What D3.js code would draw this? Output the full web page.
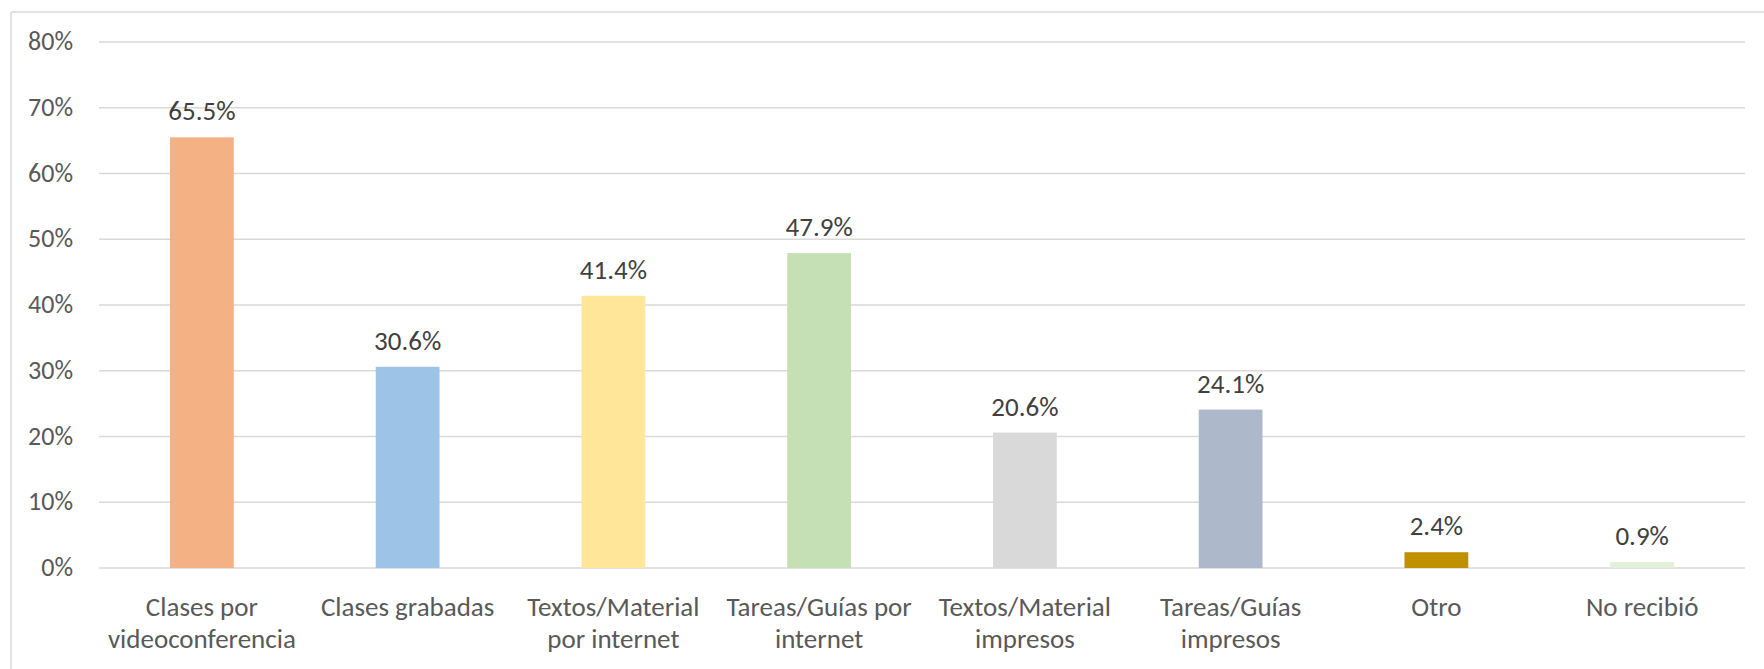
<!DOCTYPE html>
<html>
<head>
<meta charset="utf-8">
<script src="https://cdn.jsdelivr.net/npm/d3@7"></script>
<style>
  body { margin: 0; background: #fff; }
  text { font-family: Calibri, Carlito, Lato, sans-serif; }
</style>
</head>
<body>
<div id="chart"></div>
<script>
// data
var categories = [
    ["Clases por", "videoconferencia"],
    ["Clases grabadas"],
    ["Textos/Material", "por internet"],
    ["Tareas/Guías por", "internet"],
    ["Textos/Material", "impresos"],
    ["Tareas/Guías", "impresos"],
    ["Otro"],
    ["No recibió"]
];
var values = [65.5, 30.6, 41.4, 47.9, 20.6, 24.1, 2.4, 0.9];
var colors = ["#F4B183", "#9DC3E6", "#FFE699", "#C5E0B4", "#D9D9D9", "#ADB9CA", "#BF9000", "#E2F0D9"];
var yTicks = [0, 10, 20, 30, 40, 50, 60, 70, 80];

var width = 1764, height = 669;
var margin = { left: 99, right: 19, top: 42, bottom: 101 };

var svg = d3.select("#chart")
    .append("svg")
    .attr("width", width)
    .attr("height", height);

// chart frame (only top and left edges show)
svg.append("line")
    .attr("x1", 11).attr("x2", width).attr("y1", 12).attr("y2", 12)
    .style("stroke", "#D9D9D9").style("stroke-width", 1.5);
svg.append("line")
    .attr("x1", 11).attr("x2", 11).attr("y1", 12).attr("y2", height)
    .style("stroke", "#D9D9D9").style("stroke-width", 1.5);

var x = d3.scaleBand()
    .domain(d3.range(categories.length))
    .range([margin.left, width - margin.right])
    .paddingInner(0.69)
    .paddingOuter(0.345);

var y = d3.scaleLinear()
    .domain([0, 80])
    .range([height - margin.bottom, margin.top]);

// gridlines
svg.selectAll(".grid")
    .data(yTicks)
    .enter()
    .append("line")
    .attr("x1", margin.left)
    .attr("x2", width - margin.right)
    .attr("y1", d => y(d))
    .attr("y2", d => y(d))
    .style("stroke", "#D9D9D9")
    .style("stroke-width", 1.5);

// y labels
svg.selectAll(".ylab")
    .data(yTicks)
    .enter()
    .append("text")
    .attr("x", 73)
    .attr("y", d => y(d) + 8)
    .attr("text-anchor", "end")
    .style("font-size", "26px")
    .style("fill", "#595959")
    .text(d => d + "%");

// bars
svg.selectAll(".bar")
    .data(values)
    .enter()
    .append("rect")
    .attr("x", (d, i) => x(i))
    .attr("y", d => y(d))
    .attr("width", x.bandwidth())
    .attr("height", d => y(0) - y(d))
    .style("fill", (d, i) => colors[i]);

// value labels
svg.selectAll(".val")
    .data(values)
    .enter()
    .append("text")
    .attr("x", (d, i) => x(i) + x.bandwidth() / 2)
    .attr("y", d => y(d) - 17)
    .attr("text-anchor", "middle")
    .style("font-size", "27px")
    .style("fill", "#404040")
    .text(d => d.toFixed(1) + "%");

// category labels
var cat = svg.selectAll(".cat")
    .data(categories)
    .enter()
    .append("text")
    .attr("text-anchor", "middle")
    .style("font-size", "27px")
    .style("fill", "#595959");

cat.selectAll("tspan")
    .data((d, i) => d.map(s => ({ s: s, i: i })))
    .enter()
    .append("tspan")
    .attr("x", d => x(d.i) + x.bandwidth() / 2)
    .attr("y", (d, j) => 616 + j * 32)
    .text(d => d.s);
</script>
</body>
</html>
